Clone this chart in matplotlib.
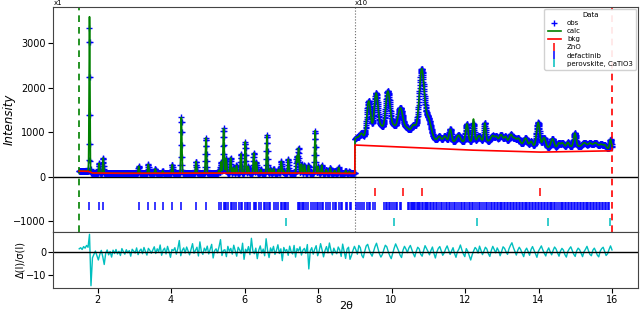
import numpy as np
import matplotlib
matplotlib.use("Agg")
import matplotlib.pyplot as plt

# ---------------- data ----------------
X_MIN, X_MAX = 1.5, 16.0
SCALE_BREAK = 9.0      # above this 2-theta the pattern is shown x10
SCALE_FACTOR = 10.0

# background knots (2theta, counts)
BKG_X = [1.5, 1.74, 1.86, 2.5, 4.0, 6.0, 8.0, 9.0, 12.0, 14.0, 16.0]
BKG_Y = [125, 120, 82, 75, 78, 82, 80, 71, 60, 55, 58]

# reflections: position, observed net height, calculated net height, FWHM
PEAK_POS = [1.78, 2.04, 2.15, 3.12, 3.38, 3.57, 3.77, 4.03, 4.28, 4.68, 4.95,
            5.30, 5.36, 5.43, 5.50, 5.62, 5.70, 5.78, 5.90, 6.02, 6.10, 6.25,
            6.32, 6.44, 6.61, 6.70, 6.79, 6.92, 7.00, 7.06, 7.19, 7.42, 7.47,
            7.55, 7.63, 7.74, 7.92, 8.00, 8.10, 8.22, 8.33, 8.45, 8.56, 8.75,
            8.85,
            9.05, 9.18, 9.38, 9.58, 9.72, 9.90, 10.06, 10.24, 10.42, 10.60,
            10.82, 11.00, 11.30, 11.45, 11.60, 11.82, 12.05, 12.23, 12.38,
            12.54, 12.75, 12.85, 12.98, 13.10, 13.25, 13.35, 13.45, 13.65,
            13.80, 13.99, 14.15, 14.38, 14.55, 14.65, 14.80, 14.99, 15.25,
            15.40, 15.55, 15.70, 15.80, 15.96,
            10.30, 12.80, 15.20]
PEAK_OBS = [3220, 220, 340, 160, 200, 100, 50, 190, 1250, 260, 790,
            60, 250, 1000, 330, 340, 120, 170, 430, 700, 150, 450,
            250, 80, 850, 100, 100, 80, 260, 60, 310, 380, 560,
            200, 180, 170, 950, 150, 180, 80, 120, 60, 130, 60,
            40,
            10, 18, 88, 102, 22, 102, 18, 62, 15, 25,
            152, 45, 10, 12, 28, 15, 40, 40, 12,
            40, 12, 10, 15, 12, 18, 10, 12, 15,
            10, 55, 22, 20, 10, 10, 10, 30, 8,
            8, 10, 8, 8, 22,
            25, 22, 10]
PEAK_CALC = [3480, 220, 340, 160, 200, 100, 50, 190, 1250, 260, 790,
             60, 250, 1000, 330, 340, 120, 170, 430, 700, 150, 450,
             250, 80, 850, 100, 100, 80, 260, 60, 310, 380, 560,
             200, 180, 170, 950, 150, 180, 80, 120, 60, 130, 60,
             40,
             10, 18, 88, 102, 22, 102, 18, 62, 15, 25,
             152, 45, 10, 12, 28, 15, 40, 50, 12,
             40, 12, 10, 15, 12, 18, 10, 12, 15,
             10, 55, 22, 20, 10, 10, 10, 30, 8,
             8, 10, 8, 8, 22,
             25, 22, 10]
PEAK_FWHM = [0.026, 0.028, 0.028, 0.03, 0.03, 0.03, 0.03, 0.03, 0.03, 0.03, 0.032,
             0.03, 0.032, 0.036, 0.034, 0.034, 0.032, 0.032, 0.034, 0.034, 0.032, 0.034,
             0.032, 0.032, 0.034, 0.032, 0.032, 0.032, 0.034, 0.032, 0.034, 0.036, 0.036,
             0.034, 0.034, 0.034, 0.036, 0.034, 0.034, 0.034, 0.034, 0.034, 0.034, 0.034,
             0.034,
             0.12, 0.12, 0.13, 0.13, 0.12, 0.15, 0.12, 0.17, 0.14, 0.16,
             0.16, 0.18, 0.10, 0.10, 0.08, 0.12, 0.08, 0.06, 0.10,
             0.06, 0.10, 0.08, 0.10, 0.08, 0.10, 0.08, 0.10, 0.10,
             0.08, 0.10, 0.10, 0.10, 0.08, 0.10, 0.08, 0.08, 0.12,
             0.10, 0.14, 0.10, 0.10, 0.06,
             1.8, 2.4, 1.2]

# normalised residual (obs-calc)/sigma sampled evenly from 1.5 to 16
RESID = [1.5, 2.0, 1.2, 2.5, 1.8, 3.0, 2.2, 8.0, -15.0, -2.5, -1.0, 0.5, -1.5, -3.5, -1.0, 0.8, -2.0, -5.5, -0.5, 1.0, -1.2, 0.3, -2.2, 0.9, -0.6,
         1.2, -0.8, 0.4, -1.5, 1.6, 0.2, -0.9, 1.1, -0.3, 0.7, -1.8, 1.3, 0.5, -0.4, 1.9, -1.1, 0.6, 1.4, -0.7, 2.1, 0.3, -1.3, 1.7, 0.8, -0.5,
         1.0, 2.4, -0.6, 1.5, 0.2, 3.2, -1.4, 0.9, 1.8, -0.8, 2.6, 0.4, -2.3, 1.2, 0.7, 2.0, -0.9, 1.6, 5.2, -1.6, 0.8, 1.9, -0.4, 2.3, 0.6,
         -1.2, 1.4, 3.8, -0.5, 0.9, 2.2, -1.7, 4.6, 0.3, -1.0, 1.8, 0.5, 2.7, -0.8, 1.3, 3.5, -2.6, 0.7, 1.5, -0.3, 2.4, 5.6, -1.5, 0.8, 1.1,
         -2.0, 2.6, 0.4, 1.7, -0.9, 3.1, 0.6, -1.8, 2.2, 1.0, -0.6, 4.0, -3.2, 1.3, 0.2, 2.5, -1.1, 6.2, 0.5, -0.7, 1.8, -2.9, 0.9, 2.8, -0.4,
         1.4, -1.6, 6.0, 0.7, -2.4, 1.9, 0.3, 2.6, -1.0, 0.8, 3.3, -0.6, 1.5, -3.8, 2.1, 0.4, 1.2, -1.4, 2.7, 0.2, -0.8, 3.0, -2.2, 1.6, 0.5,
         2.4, -1.3, 0.9, 1.7, -0.5, 3.4, -7.5, 0.6, 2.0, -0.9, 1.3, 2.9, -1.6, 0.4, 3.8, 1.1, -2.1, 0.7, 2.5, -0.3, 4.1, 0.9, -1.2, 1.8, 0.2,
         -0.7, 2.3, 1.0, -1.9, 3.6, 0.5, -2.8, 1.4, 2.2, -3.2, -1.5, 0.8, 2.6, 1.1, -0.9, 3.0, 2.0, -1.4, -2.5, 0.4, 2.8, 3.5, 1.2, -0.6, -1.8,
         0.3, 2.5, 4.0, 1.6, -0.8, -2.2, -1.0, 1.2, 3.1, 2.4, 0.2, -1.6, -2.9, -0.5, 1.8, 3.7, 2.1, 0.6, -1.3, -2.4, 0.9, 2.6, 1.4, -0.2, 1.9,
         3.0, 1.1, -0.7, -2.1, 0.4, 2.2, 1.5, -0.9, -1.8, 0.7, 2.9, 1.6, 0.3, -1.2, 0.8, 2.3, -0.5, -2.6, 0.1, 1.7, 2.5, 0.6, -1.4, -0.3, 1.5,
         2.8, 0.9, -1.0, 0.5, 2.0, -0.6, -2.3, 0.2, 1.4, 3.2, 1.0, -0.8, -2.0, 1.6, 0.4, -1.5, -3.5, -1.2, 0.6, 2.1, 1.3, -0.4, 2.7, 0.8, -1.1,
         0.5, 2.2, 1.4, -0.7, -1.9, 0.8, 2.6, 1.2, -0.3, 1.9, 0.6, -1.6, 0.3, 2.4, 1.7, 0.2, -1.0, 1.5, 3.0, 4.2, 2.1, 0.4, -1.3, 0.9, 2.2,
         1.1, -0.6, -2.0, 0.7, 1.8, 0.3, -1.4, 1.2, 2.5, 0.9, -0.8, -2.3, 0.4, 1.6, 2.8, 1.0, -0.5, -1.7, 0.6, 1.9, 0.2, -1.2, 0.8, 2.3, 1.4,
         -0.3, -1.8, 0.5, 1.7, 0.9, -1.1, -2.2, 0.3, 1.5, 2.4, 0.8, -0.9, -1.9, 0.6, 1.8, 1.1, -0.4, -2.0, 0.2, 1.3, 2.6, 0.7, -1.0, -1.6, 0.9,
         1.8, 0.4, -1.3, -2.1, 0.5, 1.6, 2.2, 0.3, -1.5, -0.7, 1.2, 2.8, 1.0]

# phase reflection tick positions
ZNO_TICKS = [9.55, 10.30, 10.84, 14.04]
DEFACTINIB_TICKS = [
    1.78, 2.04, 2.15, 3.12, 3.38, 3.57, 3.77, 4.03, 4.28, 4.68, 4.95, 5.30, 5.36,
    5.43, 5.47, 5.50, 5.56, 5.62, 5.66, 5.70, 5.78, 5.84, 5.90, 5.94, 6.02, 6.06,
    6.10, 6.16, 6.25, 6.28, 6.32, 6.38, 6.44, 6.52, 6.56, 6.61, 6.66, 6.70, 6.79,
    6.86, 6.92, 7.00, 7.03, 7.06, 7.10, 7.13, 7.19, 7.45, 7.47, 7.50, 7.55, 7.59,
    7.63, 7.67, 7.74, 7.80, 7.86, 7.92, 7.96, 8.00, 8.05, 8.10, 8.14, 8.22, 8.27,
    8.33, 8.40, 8.45, 8.50, 8.56, 8.62, 8.66, 8.75, 8.80, 8.86, 8.90,
    9.02, 9.08, 9.15, 9.20, 9.26, 9.33, 9.38, 9.42, 9.50, 9.55, 9.80, 9.84, 9.88,
    9.92, 9.97, 10.02, 10.08, 10.12, 10.16, 10.22, 10.26, 10.44, 10.48, 10.52,
    10.55, 10.58, 10.62, 10.65, 10.68, 10.72, 10.75, 10.78, 10.82, 10.85, 10.90,
    10.93, 10.97, 11.00, 11.04, 11.08, 11.12, 11.16, 11.20, 11.25, 11.30, 11.34,
    11.38, 11.42, 11.47, 11.52, 11.56, 11.60, 11.65, 11.70, 11.74, 11.78, 11.83,
    11.88, 11.92, 11.96, 12.00, 12.05, 12.10, 12.14, 12.18, 12.23, 12.28, 12.33,
    12.38, 12.42, 12.47, 12.52, 12.56, 12.60, 12.65, 12.70, 12.74, 12.78, 12.82,
    12.86, 12.90, 12.94, 12.98, 13.02, 13.06, 13.10, 13.14, 13.18, 13.22, 13.26,
    13.30, 13.34, 13.38, 13.42, 13.46, 13.50, 13.54, 13.58, 13.62, 13.66, 13.70,
    13.74, 13.78, 13.82, 13.86, 13.90, 13.94, 13.98, 14.02, 14.06, 14.10, 14.14,
    14.18, 14.22, 14.26, 14.30, 14.34, 14.38, 14.42, 14.46, 14.50, 14.55, 14.60,
    14.64, 14.68, 14.72, 14.76, 14.80, 14.84, 14.88, 14.92, 14.96, 15.00, 15.04,
    15.08, 15.12, 15.16, 15.20, 15.24, 15.28, 15.32, 15.36, 15.40, 15.44, 15.48,
    15.52, 15.56, 15.60, 15.64, 15.68, 15.72, 15.76, 15.80, 15.84, 15.88, 15.92]
PEROVSKITE_TICKS = [7.12, 10.07, 12.33, 14.25, 15.94]

PHASE_NAMES = ["ZnO", "defactinib", "perovskite, CaTiO3"]
PHASE_TICK_LEVEL = [-345, -660, -1010]
PHASE_COLORS = ["r", "b", "c"]

# ---------------- build profiles ----------------
x = np.arange(X_MIN, X_MAX + 1e-9, 0.005)
bkg = np.interp(x, BKG_X, BKG_Y)


def profile(heights):
    y = bkg.copy()
    for p, h, w in zip(PEAK_POS, heights, PEAK_FWHM):
        y += h * np.exp(-4 * np.log(2) * (x - p) ** 2 / w ** 2)
    return y


obs = profile(PEAK_OBS)
calc = profile(PEAK_CALC)


def disp(y):
    return np.where(x > SCALE_BREAK, y * SCALE_FACTOR, y)


# ---------------- figure ----------------
fig = plt.figure(figsize=(6.4, 3.14), dpi=100)
ax = fig.add_axes([0.083, 0.261, 0.914, 0.717])
axr = fig.add_axes([0.083, 0.083, 0.914, 0.178], sharex=ax)

ax.plot(x, disp(obs), "+", color="b", ms=5, mew=1.0, label="obs", zorder=2)
ax.plot(x, disp(calc), "-", color="g", lw=1.2, label="calc", zorder=3)
ax.plot(x, disp(bkg), "-", color="r", lw=1.2, label="bkg", zorder=4)

for ticks, name, lvl, col in zip([ZNO_TICKS, DEFACTINIB_TICKS, PEROVSKITE_TICKS],
                                 PHASE_NAMES, PHASE_TICK_LEVEL, PHASE_COLORS):
    ax.plot(ticks, [lvl] * len(ticks), "|", color=col, ms=5.5, mew=1.1,
            label=name, zorder=3)

ax.axhline(0, color="k", lw=1.0, zorder=1)
ax.axvline(X_MIN, color="g", ls="--", lw=1.2, dashes=(4, 3))
ax.axvline(X_MAX, color="r", ls="--", lw=1.2, dashes=(4, 3))
ax.axvline(SCALE_BREAK, color="0.4", ls=":", lw=0.8)

ax.set_xlim(0.79, 16.71)
ax.set_ylim(-1243, 3809)
ax.set_yticks([-1000, 0, 1000, 2000, 3000])
ax.set_ylabel("Intensity", fontsize=8.5, style="italic")
ax.yaxis.set_label_coords(-0.064, 0.5)
ax.tick_params(labelsize=7, labelbottom=False, pad=2)

ax.text(0.80, 3840, "x1", fontsize=5, ha="left", va="bottom")
ax.text(SCALE_BREAK, 3840, "x10", fontsize=5, ha="left", va="bottom")

leg = ax.legend(loc="upper right", title="Data", fontsize=5,
                title_fontsize=5, framealpha=0.9, borderpad=0.45,
                labelspacing=0.3, handlelength=2.0, markerscale=1.0,
                borderaxespad=0.3)

rx = np.linspace(X_MIN, X_MAX, len(RESID))
axr.plot(rx, RESID, "-", color="c", lw=1.0)
axr.axhline(0, color="k", lw=1.0)
axr.set_ylim(-16, 9)
axr.set_yticks([-10, 0])
axr.set_xticks([2, 4, 6, 8, 10, 12, 14, 16])
axr.set_ylabel("Δ(I)/σ(I)", fontsize=7)
axr.yaxis.set_label_coords(-0.047, 0.5)
axr.set_xlabel("2θ", fontsize=8)
axr.xaxis.set_label_coords(0.5, -0.24)
axr.tick_params(labelsize=7, pad=1.5)

for a in (ax, axr):
    for s in a.spines.values():
        s.set_color("#444444")

fig.savefig("out.png", dpi=100)
